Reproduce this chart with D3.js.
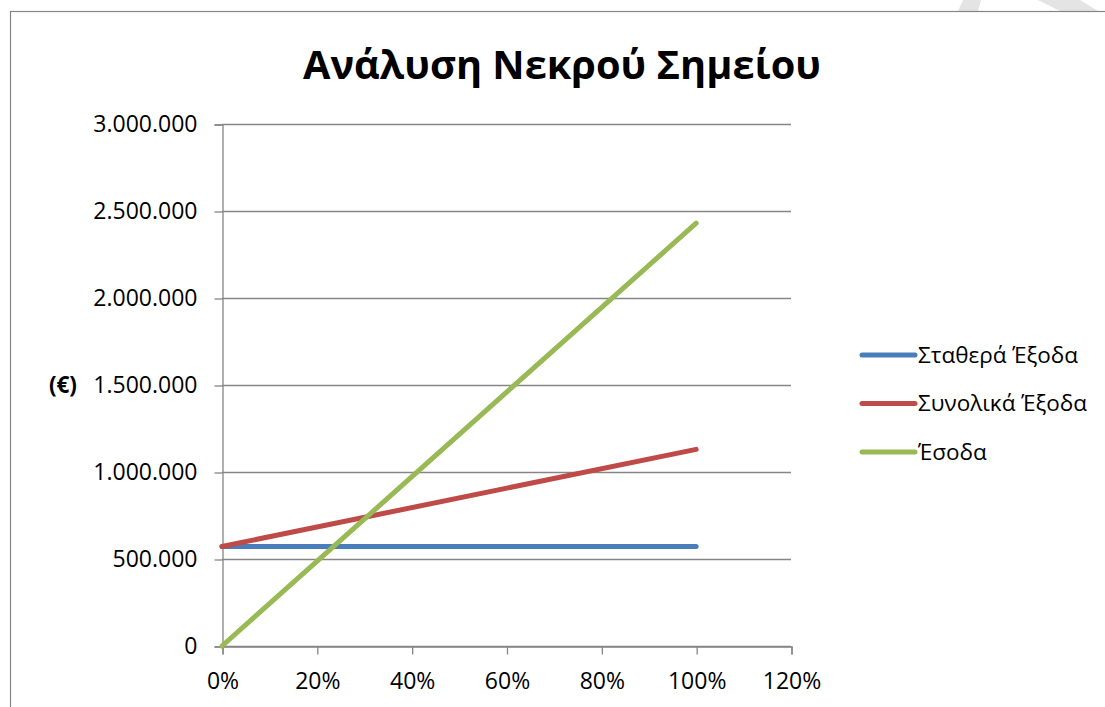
<!DOCTYPE html>
<html>
<head>
<meta charset="utf-8">
<script src="https://cdn.jsdelivr.net/npm/d3@7"></script>
<style>
  html, body { margin: 0; padding: 0; background: #ffffff; }
  svg { display: block; }
  text { font-family: "Open Sans", "Noto Sans", sans-serif; fill: #000; }
</style>
</head>
<body>
<svg id="chart" width="1105" height="707"></svg>
<script>
// Break-even analysis data: output level (share of capacity) vs euros
const levels = [0, 1];
const fixedCosts = [572000, 572000];
const totalCosts = [572000, 1130000];
const revenue = [0, 2430000];

const seriesNames = ["Σταθερά Έξοδα", "Συνολικά Έξοδα", "Έσοδα"];
const seriesColors = ["#4A7EBB", "#BE4B48", "#98B954"];

const yTicks = [0, 500000, 1000000, 1500000, 2000000, 2500000, 3000000];
const xTicks = [0, 0.2, 0.4, 0.6, 0.8, 1.0, 1.2];

const titleText = "Ανάλυση Νεκρού Σημείου";
const yUnitText = "(€)";

const svg = d3.select("#chart");
const axisColor = "#868686";

// Light decorative ring peeking above the chart frame
svg.append("path")
  .attr("d", "M963,0 L981,0 L978,11 L958,11 Z")
  .attr("fill", "#e4e4e4");
svg.append("path")
  .attr("d", "M1038,0 L1080,0 L1098,11 L1060,11 Z")
  .attr("fill", "#e4e4e4");

// Chart frame
svg.append("rect")
  .attr("x", 10.5).attr("y", 11.5)
  .attr("width", 1200).attr("height", 800)
  .attr("fill", "#ffffff")
  .attr("stroke", axisColor).attr("stroke-width", 1.2);

const x = d3.scaleLinear().domain([0, 1.2]).range([222, 791]);
const y = d3.scaleLinear().domain([0, 3000000]).range([646, 124]);

const locale = d3.formatLocale({ decimal: ",", thousands: ".", grouping: [3], currency: ["", "€"] });
const fmtY = locale.format(",.0f");
const fmtX = d3.format(".0%");

// Horizontal gridlines
svg.append("g")
  .selectAll("line")
  .data(yTicks)
  .join("line")
  .attr("x1", x(0)).attr("x2", x(1.2))
  .attr("y1", d => Math.round(y(d)) + 0.5)
  .attr("y2", d => Math.round(y(d)) + 0.5)
  .attr("stroke", axisColor).attr("stroke-width", 1.3);

// Y axis
const yAxis = svg.append("g")
  .attr("transform", `translate(${x(0) + 0.5},0.5)`)
  .call(d3.axisLeft(y).tickValues(yTicks).tickFormat(fmtY).tickSize(8).tickPadding(17));
yAxis.select(".domain").attr("stroke", axisColor).attr("stroke-width", 1.3);
yAxis.selectAll(".tick line").attr("stroke", axisColor).attr("stroke-width", 1.3);
yAxis.selectAll(".tick text")
  .attr("font-family", "'Open Sans', sans-serif")
  .attr("font-size", 23)
  .attr("fill", "#000");

// X axis
const xAxis = svg.append("g")
  .attr("transform", `translate(0.5,${y(0) + 0.5})`)
  .call(d3.axisBottom(x).tickValues(xTicks).tickFormat(fmtX).tickSize(8).tickPadding(18));
xAxis.select(".domain").attr("stroke", axisColor).attr("stroke-width", 1.3);
xAxis.selectAll(".tick line").attr("stroke", axisColor).attr("stroke-width", 1.3);
xAxis.selectAll(".tick text")
  .attr("font-family", "'Open Sans', sans-serif")
  .attr("font-size", 23)
  .attr("fill", "#000");

// Series lines
const series = [fixedCosts, totalCosts, revenue];
const line = d3.line().x((d, i) => x(levels[i])).y(d => y(d));
svg.append("g")
  .selectAll("path")
  .data(series)
  .join("path")
  .attr("d", d => line(d))
  .attr("fill", "none")
  .attr("stroke", (d, i) => seriesColors[i])
  .attr("stroke-width", 5)
  .attr("stroke-linecap", "round")
  .attr("stroke-linejoin", "round");

// Title, fitted to its span
const title = svg.append("text")
  .attr("x", 562).attr("y", 79)
  .attr("text-anchor", "middle")
  .attr("font-weight", "bold")
  .attr("font-size", 40)
  .text(titleText);
const tw = title.node().getComputedTextLength();
title.attr("font-size", 40 * 518 / tw);

// Unit label for the value axis
svg.append("text")
  .attr("x", 77).attr("y", y(1500000))
  .attr("dy", "0.35em")
  .attr("text-anchor", "end")
  .attr("font-weight", "bold")
  .attr("font-size", 22.5)
  .text(yUnitText);

// Legend
const legendY = d3.scalePoint().domain(seriesNames).range([355, 452]);
const legend = svg.append("g")
  .selectAll("g")
  .data(seriesNames)
  .join("g")
  .attr("transform", d => `translate(0,${legendY(d)})`);
legend.append("line")
  .attr("x1", 862).attr("x2", 915)
  .attr("stroke", (d, i) => seriesColors[i])
  .attr("stroke-width", 5)
  .attr("stroke-linecap", "round");
legend.append("text")
  .attr("x", 918)
  .attr("dy", "0.35em")
  .attr("font-size", 22.5)
  .text(d => d);
</script>
</body>
</html>
